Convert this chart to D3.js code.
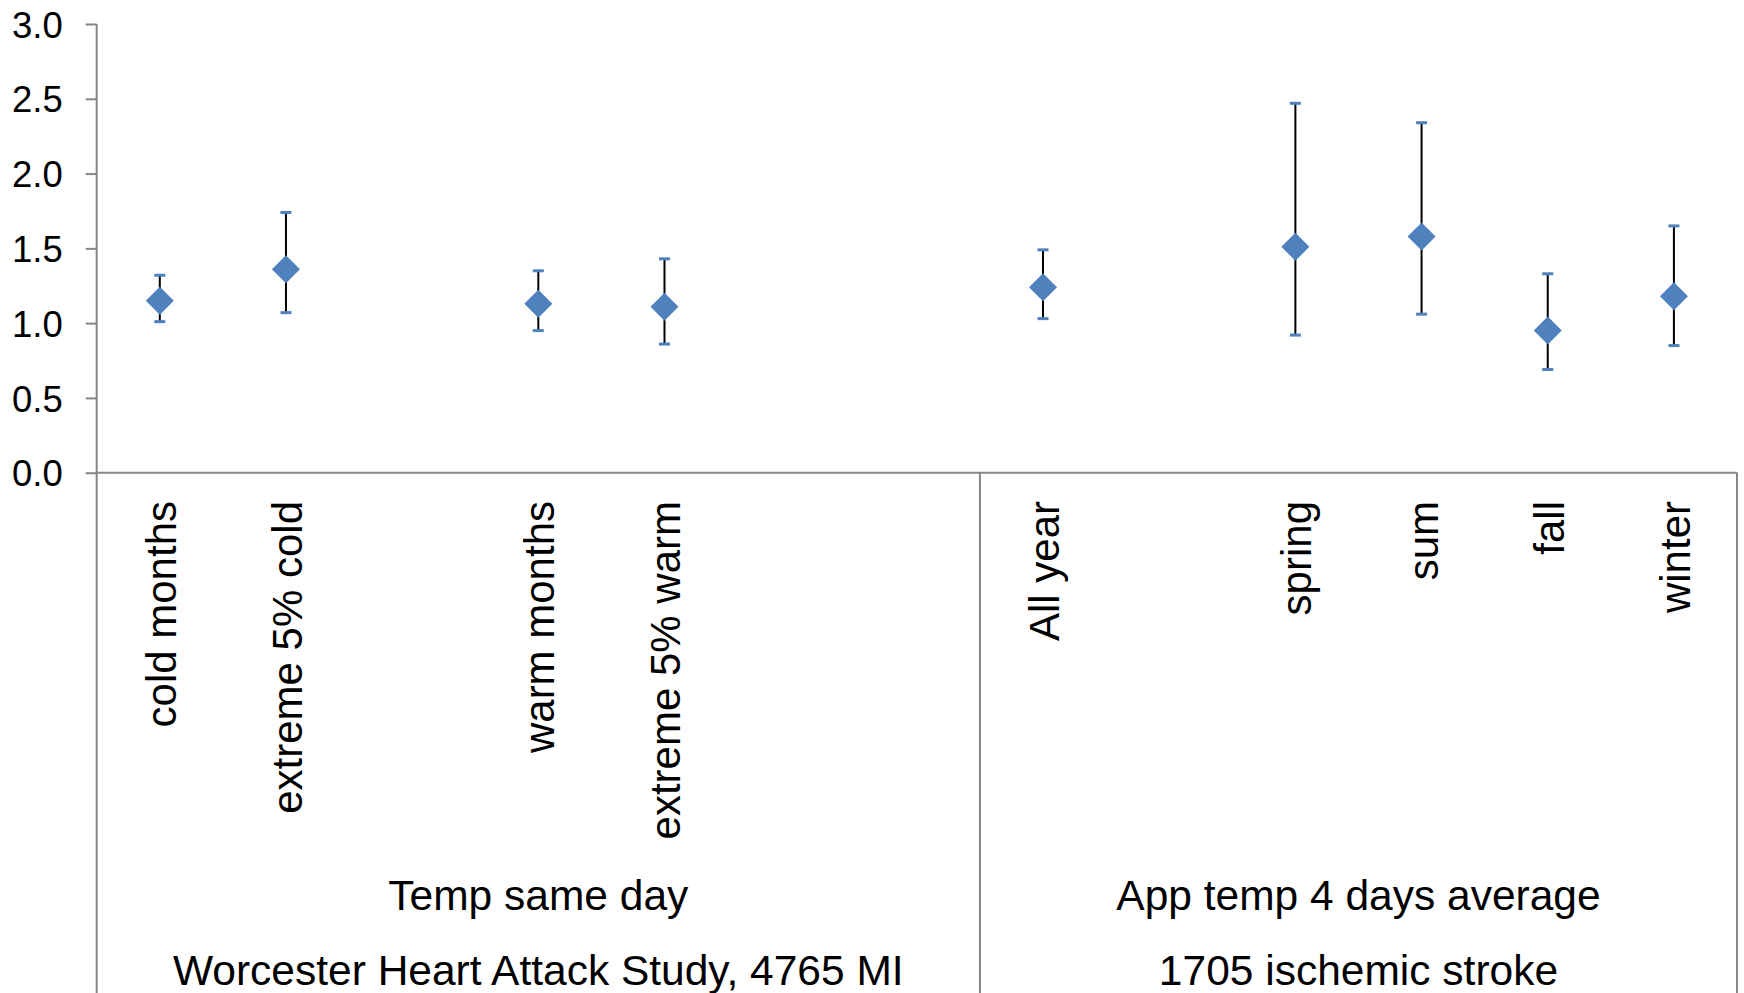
<!DOCTYPE html>
<html>
<head>
<meta charset="utf-8">
<script src="https://cdn.jsdelivr.net/npm/d3@7"></script>
<style>
  body { margin: 0; background: #fff; }
  text { font-family: "Liberation Sans", Arial, sans-serif; fill: #000; }
</style>
</head>
<body>
<svg id="chart"></svg>
<script>
// categories, with blank slots as in the original sheet
var categories = ["cold months", "extreme 5% cold", "", "warm months", "extreme 5% warm", "", "",
                  "All year", "", "spring", "sum", "fall", "winter"];
var estimate = [1.15, 1.36, null, 1.13, 1.11, null, null, 1.24, null, 1.51, 1.58, 0.95, 1.18];
var lower    = [1.01, 1.07, null, 0.95, 0.86, null, null, 1.03, null, 0.92, 1.06, 0.69, 0.85];
var upper    = [1.32, 1.74, null, 1.35, 1.43, null, null, 1.49, null, 2.47, 2.34, 1.33, 1.65];

var groupNames = ["Temp same day", "App temp 4 days average"];
var studyNames = ["Worcester Heart Attack Study, 4765 MI", "1705 ischemic stroke"];
var groupStart = [0, 7];
var groupEnd = [7, 13];

var yTicks = [0, 0.5, 1, 1.5, 2, 2.5, 3];

var W = 1744, H = 993;
var plotLeft = 96.7, plotRight = 1737, plotTop = 24, zeroY = 472.7;
var axisColor = "#878787";
var blue = "#4F81BD";

var svg = d3.select("#chart")
    .attr("width", W)
    .attr("height", H);

var x = d3.scaleBand()
    .domain(d3.range(categories.length))
    .range([plotLeft, plotRight])
    .padding(0);

var y = d3.scaleLinear()
    .domain([0, 3])
    .range([zeroY, plotTop]);

// y axis
var yAxis = d3.axisLeft(y)
    .tickValues(yTicks)
    .tickFormat(d3.format(".1f"))
    .tickSize(11)
    .tickSizeOuter(0)
    .tickPadding(23);

var gy = svg.append("g")
    .attr("transform", "translate(" + plotLeft + ",0)")
    .call(yAxis);
gy.select(".domain").remove();
gy.selectAll(".tick line").attr("stroke", axisColor).attr("stroke-width", 2);
gy.selectAll(".tick text")
    .attr("font-size", 36.5)
    .attr("font-family", "Liberation Sans, Arial, sans-serif")
    .attr("fill", "#000")
    .attr("dy", "0.36em");

// axis frame lines
svg.append("line")
    .attr("x1", plotLeft).attr("x2", plotLeft)
    .attr("y1", plotTop).attr("y2", H)
    .attr("stroke", axisColor).attr("stroke-width", 2);

svg.append("line")
    .attr("x1", plotLeft).attr("x2", plotRight)
    .attr("y1", y(0)).attr("y2", y(0))
    .attr("stroke", axisColor).attr("stroke-width", 2);

// group separators under the axis
groupEnd.forEach(function(e){
    var sx = x(e - 1) + x.bandwidth();
    svg.append("line")
        .attr("x1", sx).attr("x2", sx)
        .attr("y1", y(0)).attr("y2", H)
        .attr("stroke", axisColor).attr("stroke-width", 2);
});

// category labels
svg.selectAll(".cat")
    .data(categories)
    .enter().append("text")
    .attr("class", "cat")
    .attr("transform", function(d, i){
        return "translate(" + (x(i) + x.bandwidth() / 2) + ",501) rotate(-90)";
    })
    .attr("text-anchor", "end")
    .attr("dy", "0.38em")
    .attr("font-size", 42)
    .text(function(d){ return d; });

// group labels
groupNames.forEach(function(name, g){
    var cx = (x(groupStart[g]) + x(groupEnd[g] - 1) + x.bandwidth()) / 2;
    svg.append("text")
        .attr("x", cx).attr("y", 910)
        .attr("text-anchor", "middle")
        .attr("font-size", 42.5)
        .text(name);
    svg.append("text")
        .attr("x", cx).attr("y", 985)
        .attr("text-anchor", "middle")
        .attr("font-size", 42.5)
        .text(studyNames[g]);
});

// error bars and markers
var pts = d3.range(categories.length).filter(function(i){ return estimate[i] != null; });

var g = svg.selectAll(".pt")
    .data(pts)
    .enter().append("g")
    .attr("class", "pt")
    .attr("transform", function(i){ return "translate(" + (x(i) + x.bandwidth() / 2) + ",0)"; });

g.append("line")
    .attr("y1", function(i){ return y(lower[i]); })
    .attr("y2", function(i){ return y(upper[i]); })
    .attr("stroke", "#000")
    .attr("stroke-width", 2);

g.append("line")
    .attr("x1", -5.5).attr("x2", 5.5)
    .attr("y1", function(i){ return y(upper[i]); })
    .attr("y2", function(i){ return y(upper[i]); })
    .attr("stroke", blue).attr("stroke-width", 3);

g.append("line")
    .attr("x1", -5.5).attr("x2", 5.5)
    .attr("y1", function(i){ return y(lower[i]); })
    .attr("y2", function(i){ return y(lower[i]); })
    .attr("stroke", blue).attr("stroke-width", 3);

g.append("path")
    .attr("d", function(i){
        var cy = y(estimate[i]);
        return "M0," + (cy - 14) + "L14," + cy + "L0," + (cy + 14) + "L-14," + cy + "Z";
    })
    .attr("fill", blue);
</script>
</body>
</html>
